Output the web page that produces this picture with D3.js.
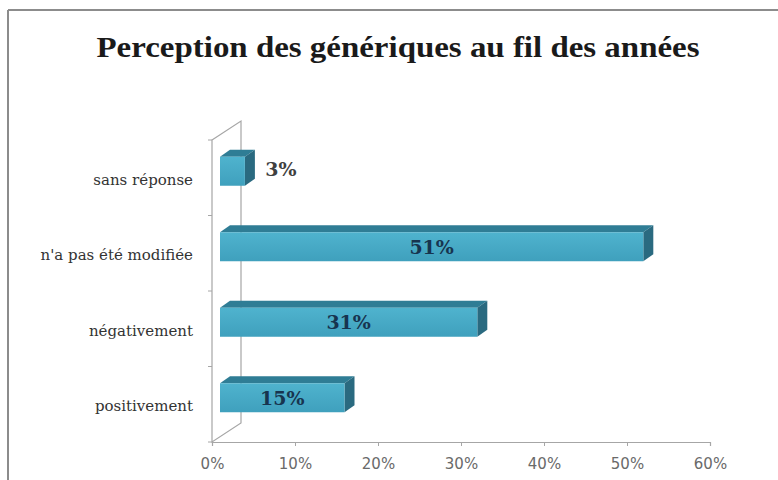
<!DOCTYPE html>
<html>
<head>
<meta charset="utf-8">
<script src="https://cdn.jsdelivr.net/npm/d3@7"></script>
<style>
  body { margin: 0; background: #fff; }
  svg { display: block; }
</style>
</head>
<body>
<div id="chart"></div>
<script>
// data, top to bottom
var categories = ['sans réponse', "n'a pas été modifiée", 'négativement', 'positivement'];
var values = [0.03, 0.51, 0.31, 0.15];
var valueLabels = ['3%', '51%', '31%', '15%'];
var xTicks = [0, 0.1, 0.2, 0.3, 0.4, 0.5, 0.6];
var title = 'Perception des génériques au fil des années';

var W = 778, H = 480;
var mLeft = 212, mRight = 710, mTop = 140, mBottom = 442;
// 3d depth of the wall and of the bars
var wallDx = 29, wallDy = -19;
var barOffX = 8, barDepthX = 10, barDepthY = -7;
var barH = 29;

var svg = d3.select('#chart').append('svg').attr('width', W).attr('height', H);

// chart frame
svg.append('line').attr('x1', 8).attr('y1', 10).attr('x2', W).attr('y2', 10)
    .attr('stroke', '#8c8c8c').attr('stroke-width', 2);
svg.append('line').attr('x1', 8).attr('y1', 10).attr('x2', 8).attr('y2', H)
    .attr('stroke', '#8c8c8c').attr('stroke-width', 2);

svg.append('text').attr('x', 398).attr('y', 57).attr('text-anchor', 'middle')
    .attr('font-family', 'Liberation Serif, serif').attr('font-weight', 'bold')
    .attr('font-size', 29).attr('fill', '#1a1a1a')
    .attr('textLength', 603).attr('lengthAdjust', 'spacingAndGlyphs').text(title);

var x = d3.scaleLinear().domain([0, 0.6]).range([mLeft, mRight]);
var y = d3.scaleBand().domain(categories).range([mTop, mBottom]);

// side wall
var g = svg.append('g');
g.append('path')
    .attr('d', 'M' + mLeft + ',' + mTop + 'L' + (mLeft + wallDx) + ',' + (mTop + wallDy) +
        'L' + (mLeft + wallDx) + ',' + (mBottom + wallDy) + 'L' + mLeft + ',' + mBottom + 'Z')
    .attr('fill', '#fff').attr('stroke', '#a6a6a6').attr('stroke-width', 1.2);

// category ticks on the wall
categories.concat(['']).forEach(function (c, i) {
    var yy = i < categories.length ? y(c) : mBottom;
    g.append('line').attr('x1', mLeft - 4).attr('x2', mLeft).attr('y1', yy).attr('y2', yy)
        .attr('stroke', '#a6a6a6');
});

// x axis
var xAxis = d3.axisBottom(x).tickValues(xTicks).tickFormat(d3.format('.0%')).tickSize(4).tickPadding(12);
var ax = svg.append('g').attr('transform', 'translate(0,' + mBottom + ')').call(xAxis);
ax.select('.domain').attr('stroke', '#a6a6a6').attr('stroke-width', 1.2);
ax.selectAll('.tick line').attr('stroke', '#a6a6a6');
ax.selectAll('.tick text').attr('font-family', 'DejaVu Sans, sans-serif').attr('font-size', 15)
    .attr('fill', '#6a6a6a');

// category labels
svg.selectAll('.cat').data(categories).enter().append('text')
    .attr('x', 193).attr('y', function (d) { return y(d) + y.bandwidth() / 2 + 7; })
    .attr('text-anchor', 'end').attr('font-family', 'DejaVu Serif, serif').attr('font-size', 15)
    .attr('fill', '#333').text(function (d) { return d; });

// bars
var grad = svg.append('defs').append('linearGradient').attr('id', 'front')
    .attr('x1', 0).attr('x2', 0).attr('y1', 0).attr('y2', 1);
grad.append('stop').attr('offset', '0%').attr('stop-color', '#4fb3ce');
grad.append('stop').attr('offset', '100%').attr('stop-color', '#3fa0bd');

categories.forEach(function (c, i) {
    var cy = y(c) + y.bandwidth() / 2;
    var x0 = x(0) + barOffX, x1 = x(values[i]) + barOffX;
    var yt = cy - 21, yb = yt + barH;
    var bar = svg.append('g');
    bar.append('path')
        .attr('d', 'M' + x0 + ',' + yt + 'L' + x1 + ',' + yt + 'L' + (x1 + barDepthX) + ',' + (yt + barDepthY) +
            'L' + (x0 + barDepthX) + ',' + (yt + barDepthY) + 'Z')
        .attr('fill', '#2f7d95');
    bar.append('path')
        .attr('d', 'M' + x1 + ',' + yt + 'L' + (x1 + barDepthX) + ',' + (yt + barDepthY) +
            'L' + (x1 + barDepthX) + ',' + (yb + barDepthY) + 'L' + x1 + ',' + yb + 'Z')
        .attr('fill', '#2a6a80');
    bar.append('rect').attr('x', x0).attr('y', yt).attr('width', x1 - x0).attr('height', barH)
        .attr('fill', 'url(#front)');

    var inside = values[i] > 0.1;
    svg.append('text')
        .attr('x', inside ? (x0 + x1) / 2 : x1 + barDepthX + 26)
        .attr('y', inside ? yt + barH / 2 + 7 : cy - 2)
        .attr('text-anchor', 'middle')
        .attr('font-family', 'DejaVu Serif, serif').attr('font-weight', 'bold')
        .attr('font-size', 19).attr('fill', inside ? '#17344f' : '#404040')
        .text(valueLabels[i]);
});
</script>
</body>
</html>
